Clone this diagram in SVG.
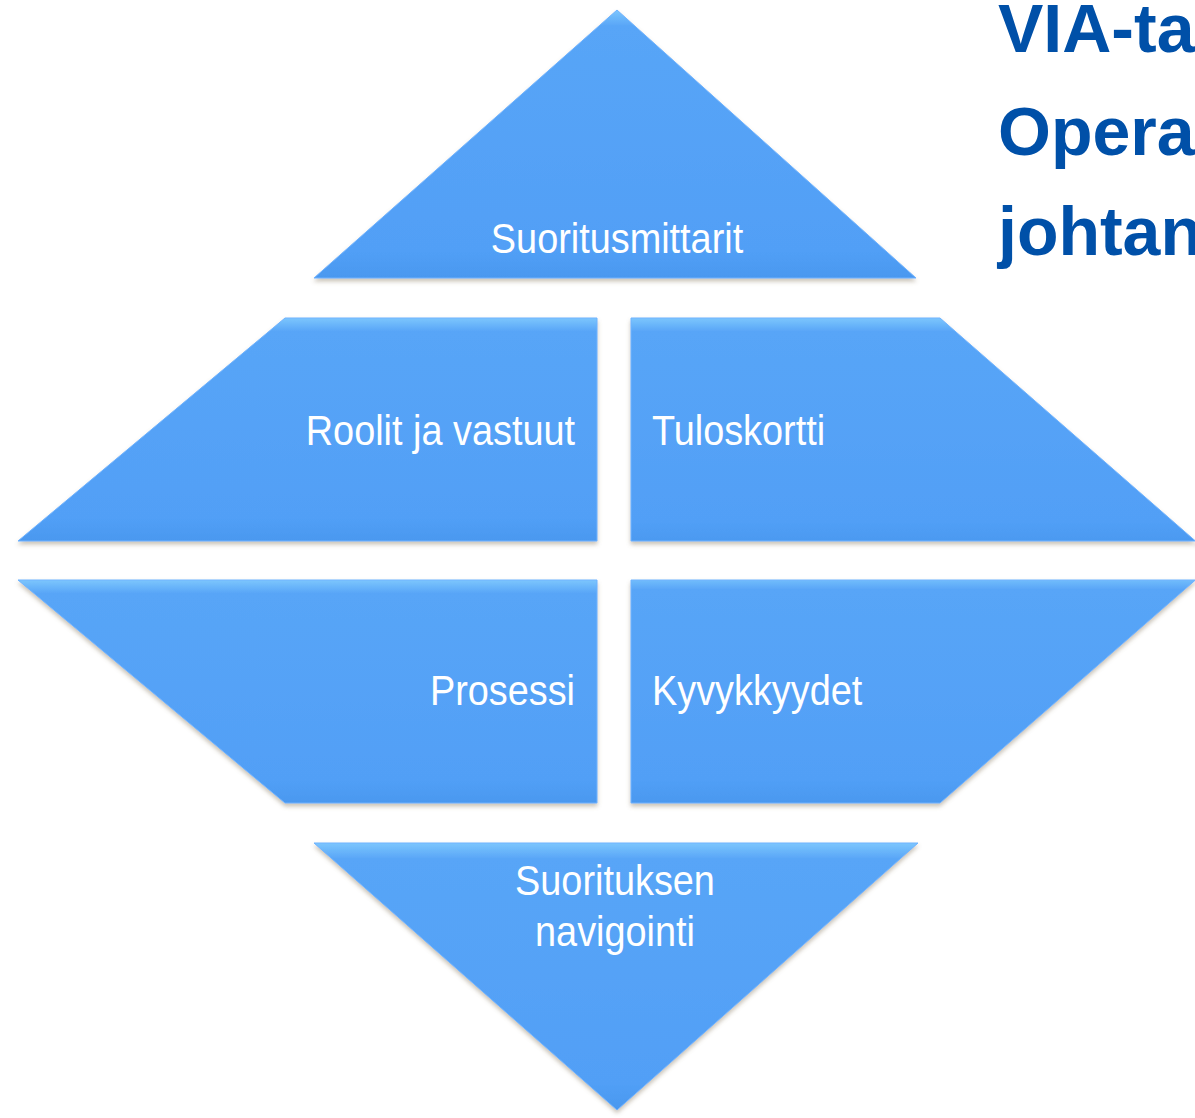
<svg xmlns="http://www.w3.org/2000/svg" width="1195" height="1118" viewBox="0 0 1195 1118">
<style>
.lbl{font-family:"Liberation Sans",Arial,sans-serif;font-size:43px;fill:#ffffff}
.ttl{font-family:"Liberation Sans",Arial,sans-serif;font-size:68px;font-weight:bold;fill:#0050a8}
.shape{fill:url(#g);stroke:#6fb3ff;stroke-width:1;filter:url(#sh)}
</style>
<defs>
<linearGradient id="g" x1="0" y1="0" x2="0" y2="1">
<stop offset="0" stop-color="#7cc6fd"/>
<stop offset="0.06" stop-color="#58a5f7"/>
<stop offset="0.9" stop-color="#519ff6"/>
<stop offset="1" stop-color="#4a98ef"/>
</linearGradient>
<filter id="sh" x="-5%" y="-5%" width="110%" height="115%">
<feDropShadow dx="0" dy="3" stdDeviation="2" flood-color="#8a7a60" flood-opacity="0.45"/>
</filter>
</defs>
<g id="title">
<text class="ttl" x="998" y="52">VIA-ta</text>
<text class="ttl" x="998" y="155">Opera</text>
<text class="ttl" x="998" y="255">johtan</text>
</g>
<g id="connectors"></g>
<g id="node-top">
<polygon class="shape" points="617,10 916,278 314,278"/>
<text class="lbl" transform="translate(617,253) scale(0.88,1)" text-anchor="middle">Suoritusmittarit</text>
</g>
<g id="node-tl">
<polygon class="shape" points="285,318 597,318 597,541 18,541"/>
<text class="lbl" transform="translate(575,445) scale(0.88,1)" text-anchor="end">Roolit ja vastuut</text>
</g>
<g id="node-tr">
<polygon class="shape" points="631,318 940,318 1200,545 1200,541 631,541"/>
<text class="lbl" transform="translate(652,445) scale(0.88,1)">Tuloskortti</text>
</g>
<g id="node-bl">
<polygon class="shape" points="18,580 597,580 597,803 285,803"/>
<text class="lbl" transform="translate(575,705) scale(0.88,1)" text-anchor="end">Prosessi</text>
</g>
<g id="node-br">
<polygon class="shape" points="631,580 1200,580 1200,576 940,803 631,803"/>
<text class="lbl" transform="translate(652,705) scale(0.88,1)">Kyvykkyydet</text>
</g>
<g id="node-bottom">
<polygon class="shape" points="314,843 918,843 617,1110"/>
<text class="lbl" transform="translate(615,895) scale(0.88,1)" text-anchor="middle">Suorituksen</text>
<text class="lbl" transform="translate(615,946) scale(0.88,1)" text-anchor="middle">navigointi</text>
</g>
</svg>
